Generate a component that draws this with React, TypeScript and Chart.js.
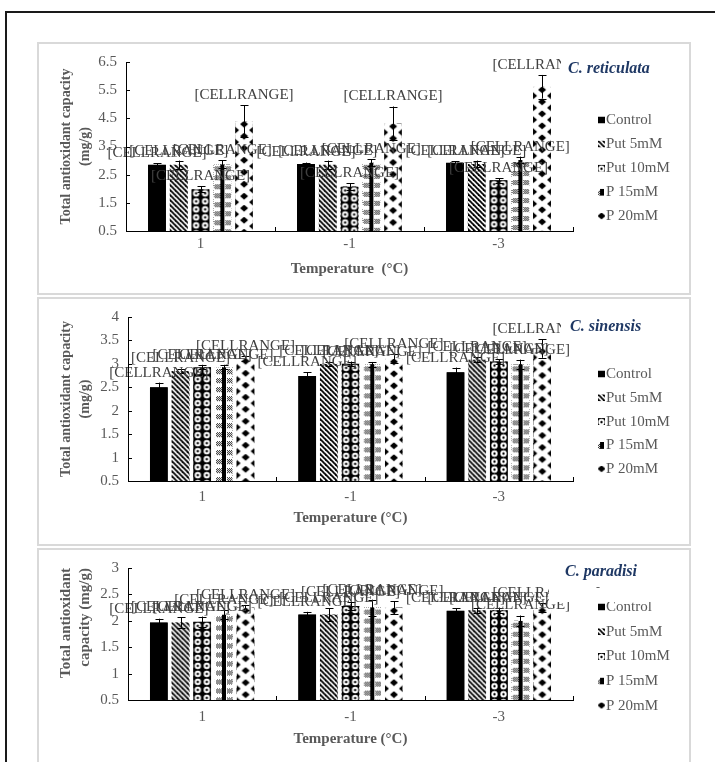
import React, { useEffect, useRef } from 'react';
import { Chart, registerables } from 'chart.js';

Chart.register(...registerables);

const FONT = "'Liberation Serif', 'Times New Roman', serif";

const categories = ['1', '-1', '-3'];
const seriesNames = ['Control', 'Put 5mM', 'Put 10mM', 'P 15mM', 'P 20mM'];
const dataLabelText = '[CELLRANGE]';

// C. reticulata
const reticulataMeans = [
  [2.85, 2.88, 2.92],
  [2.85, 2.85, 2.88],
  [1.98, 2.08, 2.3],
  [2.87, 2.92, 3.02],
  [4.4, 4.32, 5.62],
];
const reticulataErrors = [
  [0.05, 0.05, 0.05],
  [0.15, 0.15, 0.12],
  [0.1, 0.12, 0.08],
  [0.15, 0.12, 0.12],
  [0.57, 0.6, 0.42],
];
const reticulataTicks = [0.5, 1.5, 2.5, 3.5, 4.5, 5.5, 6.5];

// C. sinensis
const sinensisMeans = [
  [2.5, 2.74, 2.82],
  [2.85, 3.0, 3.09],
  [2.93, 3.0, 3.05],
  [2.93, 2.99, 2.99],
  [3.12, 3.11, 3.33],
];
const sinensisErrors = [
  [0.1, 0.08, 0.1],
  [0.05, 0.05, 0.05],
  [0.05, 0.05, 0.05],
  [0.05, 0.05, 0.1],
  [0.05, 0.1, 0.2],
];
const sinensisTicks = [0.5, 1, 1.5, 2, 2.5, 3, 3.5, 4];

// C. paradisi
const paradisiMeans = [
  [1.97, 2.12, 2.19],
  [1.97, 2.12, 2.2],
  [1.98, 2.28, 2.2],
  [2.12, 2.25, 2.0],
  [2.25, 2.25, 2.25],
];
const paradisiErrors = [
  [0.07, 0.05, 0.05],
  [0.1, 0.12, 0.05],
  [0.1, 0.08, 0.05],
  [0.08, 0.15, 0.1],
  [0.05, 0.12, 0.08],
];
const paradisiTicks = [0.5, 1, 1.5, 2, 2.5, 3];

// legend marker pattern offsets (layout only)
const legendMarkerOffsets = [0, 0, -1, -5, -5.5];

const panels = [
  {
    species: 'C. reticulata', speciesExtra: '',
    means: reticulataMeans, errors: reticulataErrors, ticks: reticulataTicks,
    min: 0.5, max: 6.5,
    yTitle: ['Total antioxidant capacity', '(mg/g)'], yTitleSize: 14, yTitleAlign: 'center',
    xTitle: 'Temperature  (°C)',
    layout: {
      frame: { left: 37, top: 42, width: 654, height: 253 },
      canvas: { left: 39, top: 44, width: 650, height: 249 },
      area: { l: 126, t: 60, r: 573, b: 231 },
      xTickPad: 4, xTitlePad: 15,
      legendY: 120, legendGap: 24.1,
      speciesBox: { x: 561, y: 54, w: 104, h: 30 }, speciesText: { x: 568, y: 69 }, extra: { x: 596, y: 588 },
    },
  },
  {
    species: 'C. sinensis', speciesExtra: '',
    means: sinensisMeans, errors: sinensisErrors, ticks: sinensisTicks,
    min: 0.5, max: 4,
    yTitle: ['Total antioxidant capacity', '(mg/g)'], yTitleSize: 14, yTitleAlign: 'center',
    xTitle: 'Temperature (°C)',
    layout: {
      frame: { left: 37, top: 297, width: 654, height: 249 },
      canvas: { left: 39, top: 299, width: 650, height: 245 },
      area: { l: 128, t: 315, r: 573, b: 481 },
      xTickPad: 7, xTitlePad: 17,
      legendY: 374, legendGap: 23.8,
      speciesBox: { x: 561, y: 312, w: 104, h: 30 }, speciesText: { x: 570, y: 327 }, extra: { x: 0, y: 0 },
    },
  },
  {
    species: 'C. paradisi', speciesExtra: '-',
    means: paradisiMeans, errors: paradisiErrors, ticks: paradisiTicks,
    min: 0.5, max: 3,
    yTitle: ['Total antioxidant', 'capacity (mg/g)'], yTitleSize: 15, yTitleAlign: 'end',
    xTitle: 'Temperature (°C)',
    layout: {
      frame: { left: 37, top: 548, width: 654, height: 300 },
      canvas: { left: 39, top: 550, width: 650, height: 212 },
      area: { l: 128, t: 564, r: 573, b: 700 },
      xTickPad: 8, xTitlePad: 14,
      legendY: 607, legendGap: 24.7,
      speciesBox: { x: 549, y: 558, w: 112, h: 44 }, speciesText: { x: 565, y: 572 }, extra: { x: 596, y: 588 },
    },
  },
];

function makeTile(kind: number): HTMLCanvasElement {
  const c = document.createElement('canvas');
  if (kind === 1) {
    c.width = 5; c.height = 5;
    const g = c.getContext('2d')!;
    g.fillStyle = '#fff'; g.fillRect(0, 0, 5, 5);
    g.strokeStyle = '#000'; g.lineWidth = 1.8;
    for (let k = -1; k <= 1; k++) {
      g.beginPath(); g.moveTo(k * 5 - 1, -1); g.lineTo(k * 5 + 6, 6); g.stroke();
    }
  } else if (kind === 2) {
    c.width = 9; c.height = 8;
    const g = c.getContext('2d')!;
    g.fillStyle = '#000'; g.fillRect(0, 0, 9, 8);
    g.fillStyle = '#fff'; g.beginPath(); g.arc(4.5, 4, 3.2, 0, Math.PI * 2); g.fill();
    g.fillStyle = '#000'; g.beginPath(); g.arc(4.5, 4, 1.2, 0, Math.PI * 2); g.fill();
  } else if (kind === 3) {
    c.width = 18; c.height = 9;
    const g = c.getContext('2d')!;
    g.fillStyle = '#fff'; g.fillRect(0, 0, 18, 9);
    g.fillStyle = '#000'; g.fillRect(7, 0, 4, 9);
    g.fillStyle = '#222';
    for (let y = 2; y <= 6; y++) {
      for (let x = 1; x <= 6; x++) if ((x + y) % 2 === 0) g.fillRect(x, y, 1, 1);
      for (let x = 12; x <= 17; x++) if ((x + y) % 2 === 0) g.fillRect(x, y, 1, 1);
    }
  } else {
    c.width = 18; c.height = 12;
    const g = c.getContext('2d')!;
    g.fillStyle = '#fff'; g.fillRect(0, 0, 18, 12);
    g.fillStyle = '#000';
    g.beginPath(); g.moveTo(9, -0.5); g.lineTo(13, 3); g.lineTo(9, 6.5); g.lineTo(5, 3); g.closePath(); g.fill();
    for (const off of [0, -12]) {
      g.beginPath(); g.moveTo(0, 5.5 + off); g.lineTo(4, 9 + off); g.lineTo(0, 12.5 + off); g.closePath(); g.fill();
      g.beginPath(); g.moveTo(18, 5.5 + off); g.lineTo(14, 9 + off); g.lineTo(18, 12.5 + off); g.closePath(); g.fill();
    }
  }
  return c;
}

function Panel({ cfg }: { cfg: any }) {
  const ref = useRef<HTMLCanvasElement>(null);
  const L = cfg.layout;
  useEffect(() => {
    const canvas = ref.current!;
    const cx = (px: number) => px - L.canvas.left;
    const cy = (py: number) => py - L.canvas.top;
    const tiles: (HTMLCanvasElement | null)[] = [null, makeTile(1), makeTile(2), makeTile(3), makeTile(4)];
    const ctx0 = canvas.getContext('2d')!;
    const datasets = seriesNames.map((name, i) => ({
      label: name,
      data: cfg.means[i],
      base: cfg.min,
      backgroundColor: i === 0 ? '#000' : (ctx0.createPattern(tiles[i]!, 'repeat') as any),
      borderWidth: 0,
    }));

    const fillBox = (ctx: CanvasRenderingContext2D, di: number, left: number, top: number, w: number, h: number, ox = 0) => {
      ctx.save();
      ctx.beginPath(); ctx.rect(left, top, w, h); ctx.clip();
      if (di === 0) {
        ctx.fillStyle = '#000'; ctx.fillRect(left, top, w, h);
      } else {
        const pat = ctx.createPattern(tiles[di]!, 'repeat')!;
        ctx.translate(left + ox, top);
        ctx.fillStyle = pat; ctx.fillRect(-ox, 0, w, h);
      }
      ctx.restore();
    };

    const overlay = {
      id: 'overlay',
      afterDatasetsDraw(chart: any) {
        const ctx: CanvasRenderingContext2D = chart.ctx;
        const ys = chart.scales.y;
        const area = chart.chartArea;
        const labels: { x: number; y: number }[] = [];
        chart.data.datasets.forEach((ds: any, di: number) => {
          const meta = chart.getDatasetMeta(di);
          meta.data.forEach((el: any, j: number) => {
            const p = el.getProps(['x', 'y', 'base', 'width'], true);
            const left = p.x - p.width / 2;
            const top = Math.min(p.y, p.base);
            const bottom = Math.min(Math.max(p.y, p.base), area.bottom);
            fillBox(ctx, di, left, top, p.width, bottom - top);
            const v = ds.data[j];
            const e = cfg.errors[di][j];
            const yT = ys.getPixelForValue(v + e);
            const yB = ys.getPixelForValue(v - e);
            const x = Math.round(p.x) + 0.5;
            ctx.save();
            ctx.strokeStyle = '#000'; ctx.lineWidth = 1;
            ctx.beginPath();
            ctx.moveTo(x, yB); ctx.lineTo(x, yT);
            ctx.moveTo(x - 4, Math.round(yT) + 0.5); ctx.lineTo(x + 4, Math.round(yT) + 0.5);
            ctx.moveTo(x - 4, Math.round(yB) + 0.5); ctx.lineTo(x + 4, Math.round(yB) + 0.5);
            ctx.stroke();
            ctx.restore();
            labels.push({ x: p.x, y: yT - 10 });
          });
        });
        ctx.save();
        ctx.font = `15px ${FONT}`;
        ctx.fillStyle = '#404040';
        ctx.textAlign = 'center';
        ctx.textBaseline = 'middle';
        labels.forEach((l) => ctx.fillText(dataLabelText, l.x, l.y));
        ctx.restore();
      },
      afterDraw(chart: any) {
        const ctx: CanvasRenderingContext2D = chart.ctx;
        const xs = chart.scales.x;
        const ys = chart.scales.y;
        const area = chart.chartArea;
        ctx.save();
        ctx.strokeStyle = '#000'; ctx.lineWidth = 1;
        ctx.beginPath();
        cfg.ticks.forEach((t: number) => {
          const yy = Math.round(ys.getPixelForValue(t)) + 0.5;
          ctx.moveTo(area.left, yy); ctx.lineTo(area.left + 4, yy);
        });
        const half = (xs.getPixelForValue(1) - xs.getPixelForValue(0)) / 2;
        categories.forEach((_c, i) => {
          const xx = Math.round(xs.getPixelForValue(i) + half) + 0.5;
          ctx.moveTo(xx, area.bottom); ctx.lineTo(xx, area.bottom - 4);
        });
        ctx.stroke();
        ctx.restore();

        // legend
        ctx.save();
        chart.data.datasets.forEach((ds: any, di: number) => {
          const yy = cy(L.legendY + di * L.legendGap);
          fillBox(ctx, di, cx(598), yy - 3.5, 7, 7, legendMarkerOffsets[di]);
          ctx.fillStyle = '#595959';
          ctx.font = `15px ${FONT}`;
          ctx.textAlign = 'left';
          ctx.textBaseline = 'middle';
          ctx.fillText(ds.label, cx(606), yy);
        });
        ctx.restore();

        // species label box
        ctx.save();
        const b = L.speciesBox;
        ctx.fillStyle = '#fff';
        ctx.fillRect(cx(b.x), cy(b.y), b.w, b.h);
        ctx.fillStyle = '#1f3864';
        ctx.font = `italic bold 16px ${FONT}`;
        ctx.textAlign = 'left';
        ctx.textBaseline = 'middle';
        ctx.fillText(cfg.species, cx(L.speciesText.x), cy(L.speciesText.y));
        if (cfg.speciesExtra) {
          ctx.fillStyle = '#595959';
          ctx.font = `12px ${FONT}`;
          ctx.fillText(cfg.speciesExtra, cx(L.extra.x), cy(L.extra.y));
        }
        ctx.restore();
      },
    };

    const A = L.area;
    const yW = A.l - L.canvas.left;
    const xH = L.canvas.top + L.canvas.height - A.b;
    const chart = new Chart(canvas, {
      type: 'bar',
      data: { labels: categories, datasets },
      plugins: [overlay],
      options: {
        responsive: false,
        animation: false,
        devicePixelRatio: 1,
        layout: {
          padding: {
            top: A.t - L.canvas.top,
            right: L.canvas.left + L.canvas.width - A.r,
            left: 0,
            bottom: 0,
          },
        },
        datasets: { bar: { categoryPercentage: 0.73, barPercentage: 0.82 } },
        plugins: {
          legend: { display: false },
          tooltip: { enabled: false },
          title: { display: false },
        },
        scales: {
          x: {
            type: 'category',
            offset: true,
            grid: { display: false, drawTicks: false },
            border: { display: true, color: '#000', width: 1, z: 1 },
            ticks: { color: '#595959', font: { family: FONT, size: 15 }, padding: L.xTickPad, autoSkip: false, maxRotation: 0 },
            title: {
              display: true,
              text: cfg.xTitle,
              color: '#595959',
              font: { family: FONT, size: 15, weight: 'bold', lineHeight: 1.2 },
              padding: { top: 0, bottom: L.xTitlePad },
            },
            afterFit: (s: any) => { s.height = xH; },
          },
          y: {
            type: 'linear',
            min: cfg.min,
            max: cfg.max,
            afterBuildTicks: (s: any) => { s.ticks = cfg.ticks.map((v: number) => ({ value: v })); },
            grid: { display: false, drawTicks: false },
            border: { display: true, color: '#000', width: 1, z: 1 },
            ticks: {
              color: '#595959', font: { family: FONT, size: 15 }, padding: 9, autoSkip: false,
              callback: (v: any) => String(v),
            },
            title: {
              display: true,
              text: cfg.yTitle,
              align: cfg.yTitleAlign,
              color: '#595959',
              font: { family: FONT, size: cfg.yTitleSize, weight: 'bold', lineHeight: 19.5 / cfg.yTitleSize },
              padding: { top: 66 - L.canvas.left - 9.75, bottom: 0 },
            },
            afterFit: (s: any) => { s.width = yW; },
          },
        },
      } as any,
    });
    return () => chart.destroy();
  }, []);

  return (
    <>
      <div
        style={{
          position: 'absolute', left: L.frame.left, top: L.frame.top, width: L.frame.width, height: L.frame.height,
          border: '2px solid #d9d9d9', boxSizing: 'border-box', background: '#fff',
        }}
      />
      <canvas
        ref={ref}
        width={L.canvas.width}
        height={L.canvas.height}
        style={{ position: 'absolute', left: L.canvas.left, top: L.canvas.top, width: L.canvas.width, height: L.canvas.height }}
      />
    </>
  );
}

export default function App() {
  return (
    <div style={{ position: 'absolute', left: 0, top: 0, width: 715, height: 762, overflow: 'hidden', background: '#fff' }}>
      <div style={{ position: 'absolute', left: 5, top: 11, width: 800, height: 900, border: '2px solid #1a1a1a' }} />
      {panels.map((p, i) => (
        <Panel key={i} cfg={p} />
      ))}
    </div>
  );
}
